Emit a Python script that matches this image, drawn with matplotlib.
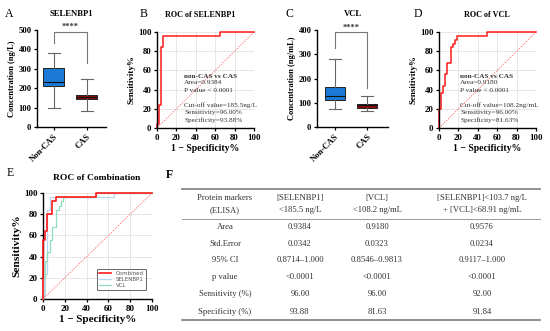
import numpy as np
import matplotlib
matplotlib.use('Agg')
import matplotlib.pyplot as plt
from matplotlib.lines import Line2D

plt.rcParams['font.family'] = ['Liberation Serif', 'DejaVu Serif']

W, H = 550, 331

# box plot summaries
groups = ['Non-CAS', 'CAS']
sel_lo = [100, 82]
sel_q1 = [212, 146]
sel_med = [234, 156]
sel_q3 = [302, 165]
sel_hi = [382, 250]

vcl_lo = [76, 65]
vcl_q1 = [112, 79]
vcl_med = [126, 89]
vcl_q3 = [164, 96]
vcl_hi = [279, 126]

# ROC curves (1-specificity %, sensitivity %)
sel_fpr = [0, 0, 2.04, 2.04, 4.08, 4.08, 6.12, 6.12, 65.3, 65.3, 100]
sel_tpr = [0, 4, 4, 24, 24, 84, 84, 96, 96, 100, 100]

vcl_fpr = [0, 0, 2.04, 2.04, 4.08, 4.08, 6.12, 6.12, 8.16, 8.16, 12.24, 12.24,
           14.29, 14.29, 16.33, 16.33, 18.37, 18.37, 48.98, 48.98, 100]
vcl_tpr = [0, 20, 20, 36, 36, 44, 44, 56, 56, 68, 68, 84,
           84, 88, 88, 92, 92, 96, 96, 100, 100]

comb_fpr = [0, 0, 2.04, 2.04, 4.08, 4.08, 8.16, 8.16, 12.24, 12.24, 48.98, 48.98, 100]
comb_tpr = [0, 56, 56, 64, 64, 80, 80, 92, 92, 96, 96, 100, 100]

sel_note = ['Area=0.9384', 'P value < 0.0001', '', 'Cut-off value=185.5ng/L',
            'Sensitivity=96.00%', 'Specificity=93.88%']
vcl_note = ['Area=0.9180', 'P value < 0.0001', '', 'Cut-off value=108.2ng/mL',
            'Sensitivity=96.00%', 'Specificity=81.63%']

# table
tab_header = [['Protein markers', '(ELISA)'], ['[SELENBP1]', '<185.5 ng/L'],
              ['[VCL]', '<108.2 ng/mL'], ['[SELENBP1]<103.7 ng/L', '+ [VCL]<68.91 ng/mL']]
tab_rows = ['Area', 'Std.Error', '95% CI', 'p value', 'Sensitivity (%)', 'Specificity (%)']
tab_sel = ['0.9384', '0.0342', '0.8714\u20131.000', '<0.0001', '96.00', '93.88']
tab_vcl = ['0.9180', '0.0323', '0.8546\u20130.9813', '<0.0001', '96.00', '81.63']
tab_comb = ['0.9576', '0.0234', '0.9117\u20131.000', '<0.0001', '92.00', '91.84']

BLUE = '#1a7ad6'
DRED = '#8c0a0a'
RED = '#ff1a1a'

fig = plt.figure(figsize=(W / 100, H / 100), dpi=100)


def px_axes(l, r, t, b):
    return fig.add_axes([l / W, 1 - b / H, (r - l) / W, (b - t) / H])


def px_text(x, y, s, **kw):
    fig.text(x / W, 1 - y / H, s, **kw)


def style_ticks(ax, size=6.3):
    for s in ['top', 'right']:
        ax.spines[s].set_visible(False)
    for s in ['left', 'bottom']:
        ax.spines[s].set_linewidth(1.0)
    ax.tick_params(length=2.5, width=0.9, pad=1.5, labelsize=size)
    for lab in ax.get_xticklabels() + ax.get_yticklabels():
        lab.set_fontweight('bold')


def box_panel(ax, lo, q1, med, q3, hi, ymax, ystep, ylabel, brk):
    stats = []
    for i in range(2):
        stats.append(dict(whislo=lo[i], q1=q1[i], med=med[i], q3=q3[i], whishi=hi[i]))
    bp = ax.bxp(stats, positions=[1, 2], widths=0.62, showfliers=False,
                patch_artist=True,
                boxprops=dict(linewidth=0.7, edgecolor='#222222'),
                medianprops=dict(color='#111111', linewidth=0.8),
                whiskerprops=dict(color='#666666', linewidth=0.8),
                capprops=dict(color='#666666', linewidth=0.8), capwidths=0.36)
    bp['boxes'][0].set_facecolor(BLUE)
    bp['boxes'][1].set_facecolor(DRED)
    ax.set_ylim(0, ymax)
    ax.set_yticks(np.arange(0, ymax + 1, ystep))
    ax.set_xticks([1, 2])
    ax.set_xticklabels(groups, rotation=45, ha='right', rotation_mode='anchor')
    ax.set_ylabel(ylabel, fontsize=6, fontweight='bold', labelpad=2)
    style_ticks(ax, 6.2)
    yb, yl, yr, ys = brk
    ax.plot([1, 1, 2, 2], [yl, yb, yb, yr], color='#777777', lw=0.8, clip_on=False)
    ax.text(1.5, ys, '****', ha='center', va='center', fontsize=6, fontweight='bold',
            color='#333333', clip_on=False)


def roc_panel(ax, xl_size, yl_size, tick_size):
    ax.set_xlim(0, 100)
    ax.set_ylim(0, 100)
    ax.set_xticks(np.arange(0, 101, 20))
    ax.set_yticks(np.arange(0, 101, 20))
    ax.grid(True, color='#dddddd', lw=0.5)
    ax.set_axisbelow(True)
    ax.plot([0, 100], [0, 100], color='#ff6060', lw=0.6, ls=(0, (1.5, 1.5)))
    ax.set_xlabel('1 \u2212 Specificity%', fontsize=xl_size, fontweight='bold', labelpad=2)
    ax.set_ylabel('Sensitivity%', fontsize=yl_size, fontweight='bold', labelpad=2)
    style_ticks(ax, tick_size)


# A
axA = px_axes(37, 106, 30, 127)
axA.set_xlim(0.5, 2.58)
box_panel(axA, sel_lo, sel_q1, sel_med, sel_q3, sel_hi, 500, 100,
          'Concentration (ng/L)', (491, 435, 331, 515))

# C
axC = px_axes(317, 388, 30, 127)
axC.set_xlim(0.45, 2.65)
box_panel(axC, vcl_lo, vcl_q1, vcl_med, vcl_q3, vcl_hi, 400, 100,
          'Concentration (ng/mL)', (390, 325, 160, 410))

# B
axB = px_axes(157, 254, 32, 128)
roc_panel(axB, 7, 6.5, 6.3)
axB.plot(sel_fpr, sel_tpr, color=RED, lw=1.1, clip_on=False)
axB.text(28, 54, 'non-CAS vs CAS', fontsize=5.2, fontweight='bold', color='#333333', va='center')
for i, s in enumerate(sel_note):
    axB.text(28, 47 - i * 7.8, s, fontsize=5.2, color='#333333', va='center')

# D
axD = px_axes(439, 536, 32, 128)
roc_panel(axD, 7, 6.5, 6.3)
axD.plot(vcl_fpr, vcl_tpr, color=RED, lw=1.1, clip_on=False)
axD.text(22, 54, 'non-CAS vs CAS', fontsize=5.2, fontweight='bold', color='#333333', va='center')
for i, s in enumerate(vcl_note):
    axD.text(22, 47 - i * 7.8, s, fontsize=5.2, color='#333333', va='center')

# E
axE = px_axes(43, 152, 193, 299)
roc_panel(axE, 7.9, 8.2, 6.5)
axE.plot(comb_fpr, comb_tpr, color=RED, lw=1.2, label='Combined', zorder=4, clip_on=False)
axE.plot(sel_fpr, sel_tpr, color='#b8d8f2', lw=0.9, label='SELENBP1', zorder=3, clip_on=False)
axE.plot(vcl_fpr, vcl_tpr, color='#8de0bc', lw=0.9, label='VCL', zorder=3, clip_on=False)
leg = axE.legend(loc='lower right', frameon=True, fancybox=False,
                 edgecolor='#222222', handlelength=2.2, borderpad=0.4, labelspacing=0.15,
                 prop={'family': 'DejaVu Sans', 'size': 4}, bbox_to_anchor=(0.97, 0.06))
leg.get_frame().set_linewidth(0.6)
for t in leg.get_texts():
    t.set_color('#555555')

# titles
for s, x, y, size in [('SELENBP1', 71, 14, 6.2), ('ROC of SELENBP1', 200, 15, 5.9),
                      ('VCL', 353, 14, 6.2), ('ROC of VCL', 487, 15, 5.9),
                      ('ROC of Combination', 97, 178, 6.8)]:
    px_text(x, y, s, fontsize=size, fontweight='bold', ha='center', va='center')

# panel letters
for lab, x, y in [('A', 5, 14), ('B', 140, 14), ('C', 285, 14), ('D', 414, 14),
                  ('E', 7, 173), ('F', 166, 175)]:
    px_text(x, y, lab, fontsize=8.5, fontweight='bold' if lab == 'F' else 'normal',
            ha='left', va='center')

# F table
col_x = [225, 300, 377, 482]
TC = '#333333'
fs = 6.2
for c, (l1, l2) in enumerate(tab_header):
    px_text(col_x[c], 198, l1, fontsize=fs, ha='center', va='center', color=TC)
    px_text(col_x[c], 210, l2, fontsize=fs, ha='center', va='center', color=TC)
row_y = [227, 243.5, 260, 277, 294.5, 311.5]
for r in range(len(tab_rows)):
    vals = [tab_rows[r], tab_sel[r], tab_vcl[r], tab_comb[r]]
    for c, v in enumerate(vals):
        px_text(col_x[c], row_y[r], v, fontsize=fs, ha='center', va='center', color=TC)
for y, lw in [(189, 1.3), (219, 0.6), (320, 1.3)]:
    fig.add_artist(Line2D([182 / W, 540 / W], [1 - y / H, 1 - y / H], color='#888888', lw=lw))

fig.savefig('out.png', dpi=100)
